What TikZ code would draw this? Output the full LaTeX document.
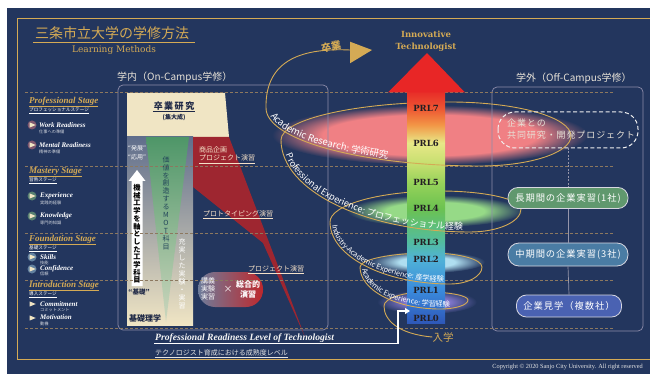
\documentclass[tikz,border=0pt]{standalone}
\usepackage{fontspec}
\setmainfont{Liberation Serif}
\newfontfamily\jp{Noto Sans CJK JP}
\newfontfamily\jpw[LetterSpace=10]{Noto Sans CJK JP}
\newfontfamily\slab{DejaVu Serif}
\usetikzlibrary{decorations.text,arrows.meta}

\definecolor{navy}{RGB}{35,54,94}
\definecolor{gold}{RGB}{212,170,85}
\definecolor{cream}{RGB}{240,229,196}
\definecolor{slate}{RGB}{96,110,140}
\definecolor{colmid}{RGB}{165,165,172}
\definecolor{greenm}{RGB}{78,150,104}
\definecolor{greenl}{RGB}{205,215,190}
\definecolor{redw}{RGB}{158,38,48}
\definecolor{redp}{RGB}{190,40,45}
\definecolor{pillblue}{RGB}{110,125,155}
\definecolor{dashc}{RGB}{140,120,95}
\definecolor{boxc}{RGB}{140,140,170}
\definecolor{pinkg}{RGB}{240,128,132}
\definecolor{greeng}{RGB}{150,218,135}
\definecolor{cyang}{RGB}{175,222,240}
\definecolor{purpg}{RGB}{130,120,205}
\definecolor{prltext}{RGB}{35,30,35}
\definecolor{headred}{RGB}{232,38,38}
\definecolor{c0}{RGB}{46,88,185}
\definecolor{c1}{RGB}{58,138,220}
\definecolor{c2}{RGB}{80,178,215}
\definecolor{c3}{RGB}{82,188,160}
\definecolor{c4}{RGB}{108,194,80}
\definecolor{c5}{RGB}{150,210,90}
\definecolor{c5b}{RGB}{195,222,110}
\definecolor{c6}{RGB}{232,232,135}
\definecolor{c6b}{RGB}{242,150,70}
\definecolor{c7}{RGB}{238,85,50}
\definecolor{c8}{RGB}{232,45,40}
\definecolor{labc}{RGB}{230,225,215}
\definecolor{creamtxt}{RGB}{245,225,200}
\definecolor{darkn}{RGB}{30,40,70}
\definecolor{motc}{RGB}{35,70,90}
\definecolor{pgreen}{RGB}{96,152,110}
\definecolor{pblue}{RGB}{74,124,164}
\definecolor{pblue2}{RGB}{74,98,178}
\definecolor{pline}{RGB}{215,215,225}
\definecolor{connc}{RGB}{150,150,170}

\pgfdeclareverticalshading{prlshade}{100bp}{color(0bp)=(c0); color(25bp)=(c0); color(32.1bp)=(c1); color(38.9bp)=(c2); color(42.5bp)=(c3); color(49.9bp)=(c4); color(55.3bp)=(c5); color(59.2bp)=(c5b); color(64bp)=(c6); color(67.9bp)=(c6b); color(71.5bp)=(c7); color(75bp)=(c8); color(100bp)=(c8)}
\pgfdeclareradialshading{glowpink}{\pgfpoint{0bp}{0bp}}{color(0bp)=(pinkg); color(17bp)=(pinkg); color(25bp)=(navy); color(50bp)=(navy)}
\pgfdeclareradialshading{glowgreen}{\pgfpoint{0bp}{0bp}}{color(0bp)=(greeng); color(14bp)=(greeng); color(25bp)=(navy); color(50bp)=(navy)}
\pgfdeclareradialshading{glowcyan}{\pgfpoint{0bp}{0bp}}{color(0bp)=(cyang); color(12bp)=(cyang); color(25bp)=(navy); color(50bp)=(navy)}
\pgfdeclareradialshading{glowpurp}{\pgfpoint{0bp}{0bp}}{color(0bp)=(purpg); color(11bp)=(purpg); color(25bp)=(navy); color(50bp)=(navy)}

\tikzset{
  dashline/.style={draw=dashc, dash pattern=on 3pt off 2pt, line width=0.6pt},
  stagehead/.style={anchor=west, text=gold, font=\fontsize{9}{9}\selectfont\bfseries\itshape, inner sep=0pt},
  stagejp/.style={anchor=west, text=white, font=\jp\fontsize{4.6}{5}\selectfont, inner sep=0pt},
  itemtxt/.style={anchor=west, text=white, font=\fontsize{7}{7}\selectfont\bfseries\itshape, inner sep=0pt},
  itemjp/.style={anchor=west, text=white!80!navy, font=\jp\fontsize{4.2}{4.5}\selectfont, inner sep=0pt},
  spiral/.style={draw=gold, line width=0.9pt},
  prl/.style={font=\slab\bfseries\fontsize{8.5}{8.5}\selectfont, text=prltext, inner sep=0pt},
  redlbl/.style={anchor=west, text=creamtxt, font=\jp\fontsize{7}{8.5}\selectfont, align=left, inner sep=0pt},
  vstack/.style={align=center, inner sep=0pt},
  pillnode/.style={rounded corners=10pt, draw=pline, line width=0.8pt, text=white, font=\jpw\fontsize{9.3}{9.3}\selectfont, minimum height=21pt, inner xsep=7pt},
  conn/.style={draw=connc, line width=0.7pt},
  campuslbl/.style={anchor=west, text=labc, font=\jp\fontsize{10}{10}\selectfont, inner sep=0pt},
}

\begin{document}
\begin{tikzpicture}[x=1pt,y=-1pt]
\useasboundingbox (0,0) rectangle (650,374);
\fill[white] (0,0) rectangle (650,374);
\fill[navy] (7,8) rectangle (650,374);
\draw[gold, line width=0.8pt] (17,359) -- (17,18) -- (650,18);
\draw[gold, line width=0.8pt] (17,359) -- (650,359);

% title
\node[text=gold, font=\jp\fontsize{14}{14}\selectfont, inner sep=0pt] (title) at (112,33) {三条市立大学の学修方法};
\draw[gold, line width=0.8pt] (33,42.5) -- (195,42.5);
\node[text=gold, font=\slab\fontsize{9}{9}\selectfont, inner sep=0pt] (lm) at (114,50) {Learning Methods};

% glows
\shade[shading=glowpink] (430,135) ellipse [x radius=158pt, y radius=30pt];
\shade[shading=glowgreen] (435,211) ellipse [x radius=88pt, y radius=16pt];
\shade[shading=glowcyan] (427,262) ellipse [x radius=58pt, y radius=11pt];
\shade[shading=glowpurp] (427,302) ellipse [x radius=50pt, y radius=12pt];

% campus boxes
\draw[boxc, line width=0.7pt, rounded corners=5pt] (118,85) rectangle (328,330);
\draw[boxc, line width=0.7pt, rounded corners=5pt] (492,87) rectangle (643,331);
\node[campuslbl] (onlbl) at (117,77) {学内（On-Campus学修）};
\node[campuslbl] (offlbl) at (516,78) {学外（Off-Campus学修）};

% on-campus content
\fill[cream] (127,93) -- (225,93) -- (229,137) -- (127,137) -- cycle;
\node[font=\jp\bfseries\fontsize{9}{9}\selectfont, text=darkn, inner sep=0.6pt] (sotsu) at (174,106) {卒\,業\,研\,究};
\draw[darkn, line width=0.5pt] (sotsu.south west) -- (sotsu.south east);
\node[font=\jp\bfseries\fontsize{6}{6}\selectfont, text=darkn, inner sep=0pt] (shutai) at (174,118) {(集大成)};

\shade[top color=slate, middle color=colmid, bottom color=cream] (127,137) rectangle (193,325);
\shade[top color=greenm, bottom color=greenl] (146,137) -- (189,137) -- (166,322) -- cycle;
\fill[redw] (193,137) -- (229,137) -- (305,337) -- (263,243) -- (193,187) -- cycle;
\shade[left color=pillblue, right color=redp, rounded corners=17pt] (198,272) rectangle (263,307);

\fill[white] (137,170) -- (145.5,181) -- (142.5,181) -- (142.5,286) -- (131.5,286) -- (131.5,181) -- (128.5,181) -- cycle;

% dashed stage lines
\foreach \yy in {92,166,233,280,328} \draw[dashline] (25,\yy) -- (613,\yy);

\node[vstack, font=\jp\bfseries\fontsize{7.2}{7.7}\selectfont, text=black] (mech) at (137,234) {機\\械\\工\\学\\を\\軸\\と\\し\\た\\工\\学\\科\\目};
\node[vstack, font=\jp\fontsize{7}{7.9}\selectfont, text=motc] (mot) at (166,203) {価\\値\\を\\創\\造\\す\\る\\M\\O\\T\\科\\目};
\node[vstack, font=\jp\fontsize{7}{8}\selectfont, text=white] (jujitsu) at (182,274) {充\\実\\し\\た\\実\\験\\・\\実\\習};
\node[vstack, font=\jp\fontsize{6}{9}\selectfont, text=white] (hatten) at (137,152.5) {“発展”\\“応用”};
\node[font=\jp\bfseries\fontsize{6.5}{6.5}\selectfont, text=darkn, inner sep=0pt] (kiso) at (139,292) {“基礎”};
\node[font=\jp\bfseries\fontsize{8}{8}\selectfont, text=darkn, inner sep=0pt] (kisori) at (145,318) {基礎理学};

\node[redlbl] (shohin) at (199,155) {商品企画\\\underline{プロジェクト演習}};
\node[redlbl] (proto) at (203,215) {\underline{プロトタイピング演習}};
\node[redlbl] (proj) at (248,270) {\underline{プロジェクト演習}};
\node[vstack, font=\jp\fontsize{7}{8.3}\selectfont, text=white] (kogi) at (208,289) {講義\\実験\\実習};
\node[font=\jp\fontsize{9}{9}\selectfont, text=white, inner sep=0pt] (times) at (228,289) {×};
\node[vstack, font=\jp\bfseries\fontsize{8}{10}\selectfont, text=white] (sogo) at (248,289) {総合的\\演習};

% spiral points
\coordinate (L0) at (384,306); \coordinate (R0) at (468,300);
\coordinate (L1) at (360,267); \coordinate (R1) at (482,267);
\coordinate (L2) at (330,222); \coordinate (R2) at (521,209);
\coordinate (L3) at (281,140); \coordinate (R3) at (571,136);
\coordinate (L4) at (266,108); \coordinate (AR) at (350,50);

% back arcs
\draw[spiral] (L0) .. controls (384,298.3) and (402.8,292) .. (426,292) .. controls (449.2,292) and (468,295.6) .. (R0);
\draw[spiral] (L1) .. controls (360,259.3) and (391.4,253) .. (430,253) .. controls (458.7,253) and (482,259.3) .. (R1);
\draw[spiral] (L2) .. controls (330,204.9) and (379.3,191) .. (440,191) .. controls (484.7,191) and (521,199.1) .. (R2);
\draw[spiral] (L3) .. controls (281,119) and (356.7,102) .. (450,102) .. controls (516.8,102) and (571,117.2) .. (R3);

% PRL arrow
\shade[shading=prlshade] (407,92) rectangle (445,323);
\fill[headred] (388,92.5) -- (427,53) -- (465,92.5) -- cycle;
\node[text=gold, font=\slab\bfseries\fontsize{8.5}{12.5}\selectfont, align=center, inner sep=0pt] (innov) at (426,41) {Innovative\\Technologist};
\node[prl] (p7) at (426,108) {PRL7};
\node[prl] (p6) at (426,143) {PRL6};
\node[prl] (p5) at (426,182) {PRL5};
\node[prl] (p4) at (426,208) {PRL4};
\node[prl] (p3) at (426,242) {PRL3};
\node[prl] (p2) at (426,259) {PRL2};
\node[prl] (p1) at (426,290) {PRL1};
\node[prl] (p0) at (426,318) {PRL0};

% front arcs
\node[text=gold, font=\jp\fontsize{10.5}{10.5}\selectfont, inner sep=0pt] (nyu) at (443,337) {入学};
\draw[spiral] (nyu.west) .. controls (398,334) and (384,320) .. (L0);
\draw[spiral] (R0) .. controls (468,305) and (455.5,309) .. (440,309) .. controls (395.8,309) and (360,290.2) .. (L1);
\draw[spiral] (R1) .. controls (482,276.4) and (467.7,284) .. (450,284) .. controls (383.8,284) and (330,256.2) .. (L2);
\draw[spiral] (R2) .. controls (521,221.7) and (498.2,232) .. (470,232) .. controls (365.7,232) and (281,190.8) .. (L3);
\draw[spiral] (R3) .. controls (571,152.6) and (530.2,166) .. (480,166) .. controls (361.9,166) and (266,140) .. (L4);
\draw[spiral] (L4) .. controls (265,58) and (305,48) .. (AR);
\fill[gold] (350,41.7) -- (372,50) -- (350,63.3) -- cycle;
\node[text=gold, font=\jp\bfseries\fontsize{10}{10}\selectfont, rotate=12, inner sep=0pt] (sotsugyo) at (331,47) {卒業};

% labels along spiral
\path[decorate, decoration={text along path, raise=2pt, text align={left indent=10pt},
  text={|\jp\fontsize{9.5}{9.5}\selectfont\color{white}|Academic Research: 学術研究}}]
  (L4) .. controls (266,140) and (361.9,166) .. (480,166);
\path[decorate, decoration={text along path, raise=2pt, text align={left indent=16pt},
  text={|\jp\fontsize{9}{9}\selectfont\color{white}|Professional Experience: プロフェッショナル経験}}]
  (L3) .. controls (281,190.8) and (365.7,232) .. (470,232) .. controls (498.2,232) and (521,221.7) .. (R2);
\path[decorate, decoration={text along path, raise=2pt, text align={left indent=4pt},
  text={|\jp\fontsize{7.3}{7.3}\selectfont\color{white}|Industry-Academic Experience: 産学経験}}]
  (L2) .. controls (330,256.2) and (383.8,284) .. (450,284) .. controls (467.7,284) and (482,276.4) .. (R1);
\path[decorate, decoration={text along path, raise=2pt, text align={left indent=3pt},
  text={|\jp\fontsize{7.3}{7.3}\selectfont\color{white}|Academic Experience: 学習経験}}]
  (L1) .. controls (360,290.2) and (395.8,309) .. (440,309) .. controls (455.5,309) and (468,305) .. (R0);

% off-campus
\draw[white!88!gray, line width=1pt, dash pattern=on 4pt off 2.5pt, rounded corners=17pt] (498,112) rectangle (638,148);
\node[anchor=west, text=labc, font=\jpw\fontsize{9}{12}\selectfont, align=left, inner sep=0pt] (joint) at (507,129.5) {企業との\\共同研究・開発プロジェクト};
\coordinate (jointb) at (568,148);
\node[pillnode, fill=pgreen, minimum width=120pt] (long) at (568,198) {長期間の企業実習(1社)};
\node[pillnode, fill=pblue, minimum width=120pt, minimum height=23pt, rounded corners=11pt] (mid) at (568,254.5) {中期間の企業実習(3社)};
\node[pillnode, fill=pblue2, minimum width=92pt, minimum height=22pt] (visit) at (569,306) {企業見学（複数社）};
\draw[conn, dash pattern=on 2pt off 1.5pt] (jointb) -- (long.north);
\draw[conn] (long.south) -- (mid.north);
\draw[conn] (mid.south) -- (visit.north);

% bottom
\node[anchor=base west, text=white!92!gray, font=\bfseries\itshape\fontsize{9.6}{10}\selectfont, inner sep=0pt] (prlt) at (155,340) {Professional Readiness Level of Technologist};
\node[anchor=base west, text=white!80!gray, font=\jp\fontsize{7}{7}\selectfont, inner sep=0pt] (prljp) at (155,355) {\underline{テクノロジスト育成における成熟度レベル}};
\coordinate (wstart) at (154,343.5);
\coordinate (wend) at (410,311);
\draw[white, line width=1.3pt, -{Triangle[length=5pt,width=6pt]}] (wstart) -- (398,343.5) -- (398,311) -- (wend);
\node[anchor=east, text=white!80!gray, font=\fontsize{6.3}{6.3}\selectfont, inner sep=0pt] (copy) at (643,367) {Copyright © 2020 Sanjo City University. All right reserved};

% left legend
\node[stagehead] (st1) at (29,102) {\underline{Professional Stage}};
\node[stagejp] (st1j) at (29,110.5) {\underline{プロフェッショナルステージ}};
\node[stagehead] (st2) at (29,172) {\underline{Mastery Stage}};
\node[stagejp] (st2j) at (29,180.5) {\underline{習熟ステージ}};
\node[stagehead] (st3) at (29,240) {\underline{Foundation Stage}};
\node[stagejp] (st3j) at (29,248.5) {\underline{基礎ステージ}};
\node[stagehead] (st4) at (29,286) {\underline{Introduction Stage}};
\node[stagejp] (st4j) at (29,294.5) {\underline{導入ステージ}};

\foreach \yy/\gc in {125/pinkg,145/pinkg,196/greeng,216/greeng,257/cyang,269/cyang,304/navy,318/navy}{
  \fill[\gc, opacity=0.45] (32,\yy) circle (4.5pt);
  \fill[cream] (29.5,\yy-2.6) -- (35.8,\yy) -- (29.5,\yy+2.6) -- cycle;
}
\node[itemtxt] (i1) at (39,125) {Work Readiness};
\node[itemjp] (i1j) at (39,132) {仕事への準備};
\node[itemtxt] (i2) at (39,145) {Mental Readiness};
\node[itemjp] (i2j) at (39,152) {精神の準備};
\node[itemtxt] (i3) at (40,196) {Experience};
\node[itemjp] (i3j) at (40,203) {実践的経験};
\node[itemtxt] (i4) at (40,216) {Knowledge};
\node[itemjp] (i4j) at (40,223) {専門的知識};
\node[itemtxt] (i5) at (40,257) {Skills};
\node[itemjp] (i5j) at (40,263) {技能};
\node[itemtxt] (i6) at (40,268.5) {Confidence};
\node[itemjp] (i6j) at (40,274) {信頼};
\node[itemtxt] (i7) at (40,304) {Commitment};
\node[itemjp] (i7j) at (40,310) {コミットメント};
\node[itemtxt] (i8) at (40,317.5) {Motivation};
\node[itemjp] (i8j) at (40,323.5) {動機};
\end{tikzpicture}
\end{document}
